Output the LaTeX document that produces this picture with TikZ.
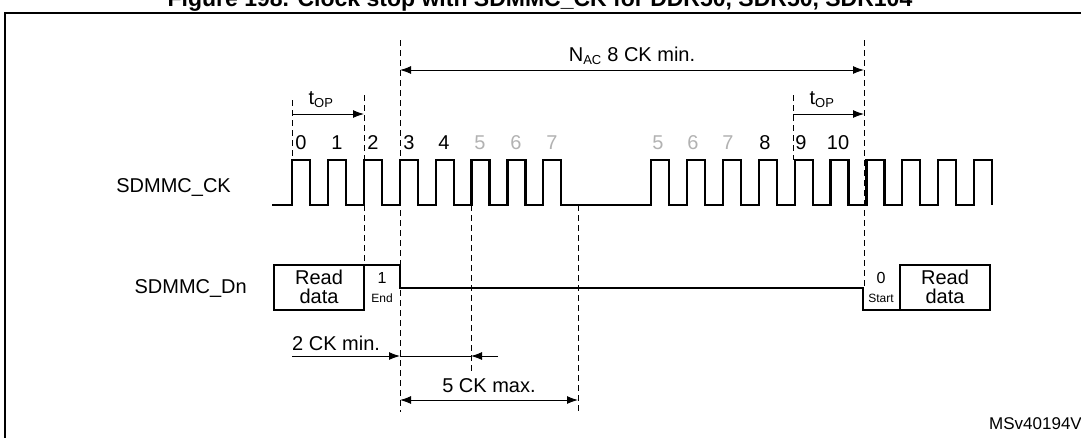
\documentclass[tikz,border=0pt]{standalone}
\usepackage{fontspec}
\setmainfont{Liberation Sans}
\usetikzlibrary{arrows.meta}
\begin{document}
\begin{tikzpicture}[x=1pt,y=-1pt,
  sig/.style={line width=2.2pt},
  dsh/.style={dash pattern=on 6pt off 4pt, line width=0.9pt},
  dim/.style={line width=1pt},
  tip/.style={-{Latex[length=11pt,width=8pt]}},
  lbl/.style={font=\fontsize{20}{19}\selectfont, inner sep=0pt},
  num/.style={font=\fontsize{20}{20}\selectfont, inner sep=0pt},
  gnum/.style={num, text=black!30},
  sm/.style={font=\fontsize{12}{12}\selectfont, inner sep=0pt}]
\useasboundingbox (0,0) rectangle (1081,437);
\clip (0,0) rectangle (1081,437);
\node[font=\bfseries\fontsize{23}{23}\selectfont] (title) at (540,1) {Figure 198. Clock stop with SDMMC\_CK for DDR50, SDR50, SDR104};
\draw[line width=1.6pt] (5,445) -- (5,13) -- (1090,13);
% clock
\draw[sig] (272,205)
 \foreach \i in {0,...,7}{ -- ({292+35.9*\i},205) -- ({292+35.9*\i},160) -- ({310+35.9*\i},160) -- ({310+35.9*\i},205)}
 \foreach \i in {10,...,19}{ -- ({292+35.9*\i},205) -- ({292+35.9*\i},160) -- ({310+35.9*\i},160) -- ({310+35.9*\i},205)};
% data
\draw[sig] (274,265) rectangle (364,310);
\draw[sig] (364,265) -- (400,265) -- (400,288) -- (863,288) -- (863,310) -- (900,310);
\draw[sig] (900,265) rectangle (990,310);
\node[lbl,align=center] (rd1) at (319,287) {Read\\data};
\node[lbl,align=center] (rd2) at (945,287) {Read\\data};
\node[num,font=\fontsize{16}{16}\selectfont] (one) at (382,278) {1};
\node[sm] (end) at (382,298) {End};
\node[num,font=\fontsize{16}{16}\selectfont] (zero) at (881,278) {0};
\node[sm] (start) at (881,298) {Start};
% dashed
\draw[dsh] (292,100) -- (292,160);
\draw[dsh] (364,95) -- (364,265);
\draw[dsh] (400,40) -- (400,412);
\draw[dsh] (471,205) -- (471,372);
\draw[dsh] (578,205) -- (578,412);
\draw[dsh] (793,95) -- (793,160);
\draw[dsh] (864,40) -- (864,288);
% labels
\node[lbl,anchor=east] (ck) at (231,187) {SDMMC\_CK};
\node[lbl,anchor=east] (dn) at (247,288) {SDMMC\_Dn};
\foreach \t/\x in {0/301,1/337,2/373,3/409,4/444,8/765,9/801,10/838}{\node[num] at (\x,143) {\t};}
\foreach \t/\x in {5/480,6/516,7/552,5/658,6/693,7/728}{\node[gnum] at (\x,143) {\t};}
% arrows
\coordinate (a1) at (292,114); \coordinate (a2) at (364,114);
\draw[dim,tip] (a1) -- (a2);
\node[lbl] at (321,100) {t\textsubscript{\fontsize{13}{13}\selectfont OP}};
\coordinate (b1) at (793,114); \coordinate (b2) at (864,114);
\draw[dim,tip] (b1) -- (b2);
\node[lbl] at (822,100) {t\textsubscript{\fontsize{13}{13}\selectfont OP}};
\coordinate (n1) at (400,70); \coordinate (n2) at (864,70);
\draw[dim,{Latex[length=11pt,width=8pt]}-{Latex[length=11pt,width=8pt]}] (n1) -- (n2);
\node[lbl] at (632,56) {N\textsubscript{\fontsize{13}{13}\selectfont AC} 8 CK min.};
\coordinate (c1) at (292,356); \coordinate (c2) at (400,356); \coordinate (c3) at (471,356); \coordinate (c4) at (498,356);
\draw[dim,tip] (c1) -- (c2);
\draw[dim] (c2) -- (c3);
\draw[dim,tip] (c4) -- (c3);
\node[lbl,anchor=west] at (292,343) {2 CK min.};
\coordinate (d1) at (400,400); \coordinate (d2) at (578,400);
\draw[dim,{Latex[length=11pt,width=8pt]}-{Latex[length=11pt,width=8pt]}] (d1) -- (d2);
\node[lbl] at (489,386) {5 CK max.};
\node[font=\fontsize{17}{17}\selectfont,anchor=west,inner sep=0pt] at (989,424) {MSv40194V2};
\end{tikzpicture}
\end{document}
